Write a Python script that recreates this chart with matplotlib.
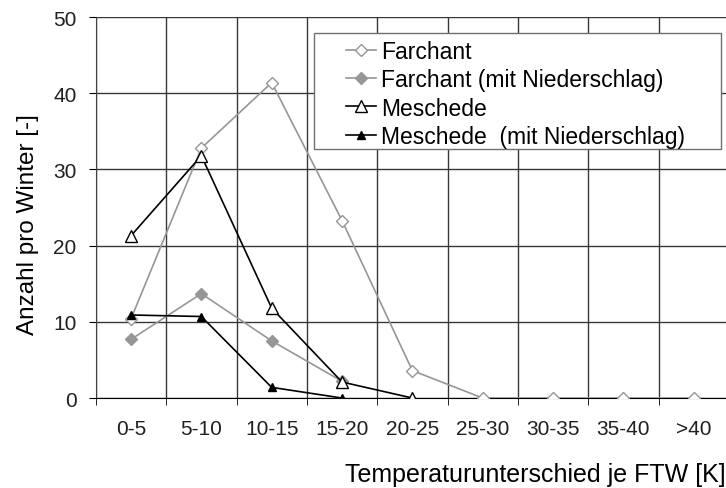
import matplotlib.pyplot as plt
from matplotlib.patches import Rectangle

plt.rcParams['font.family'] = ['Liberation Sans', 'DejaVu Sans']

# Kategorien und Werte
kategorien = ['0-5', '5-10', '10-15', '15-20', '20-25', '25-30', '30-35', '35-40', '>40']
farchant = [10.4, 32.8, 41.4, 23.3, 3.6, 0, 0, 0, 0]
farchant_ns = [7.7, 13.7, 7.5, 2.2]
meschede = [21.3, 31.8, 11.8, 2.1, 0]
meschede_ns = [10.9, 10.7, 1.4, 0]

fig = plt.figure(figsize=(7.26, 4.89), dpi=100)
ax = fig.add_axes([0.132, 0.184, 0.872, 0.779])

grau = '#969696'
ax.plot(range(len(farchant)), farchant, color=grau, lw=1.2, marker='D', ms=6,
        mfc='white', mec=grau, label='Farchant', zorder=3)
ax.plot(range(len(farchant_ns)), farchant_ns, color=grau, lw=1.2, marker='D', ms=6,
        mfc=grau, mec=grau, label='Farchant (mit Niederschlag)', zorder=3)
ax.plot(range(len(meschede)), meschede, color='black', lw=1.2, marker='^', ms=9,
        mfc='white', mec='black', mew=1, label='Meschede', zorder=4)
ax.plot(range(len(meschede_ns)), meschede_ns, color='black', lw=1.2, marker='^', ms=6,
        mfc='black', mec='black', label='Meschede  (mit Niederschlag)', zorder=4)

ax.set_xlim(-0.5, 8.5)
ax.set_ylim(0, 50)
ax.set_xticks(range(len(kategorien)))
ax.set_xticklabels(kategorien)
ax.set_xticks([i - 0.5 for i in range(len(kategorien) + 1)], minor=True)
ax.set_yticks(range(0, 51, 10))
ax.tick_params(axis='x', which='major', length=0, pad=15, labelsize=15, labelcolor='#202020')
ax.tick_params(axis='x', which='minor', length=5, direction='out', color='black')
ax.tick_params(axis='y', length=5, direction='out', labelsize=15, pad=9, labelcolor='#202020')
ax.grid(True, which='minor', axis='x', color='#383838', lw=1)
ax.grid(True, which='major', axis='y', color='#383838', lw=1)
ax.set_axisbelow(True)

for s in ['top', 'right']:
    ax.spines[s].set_visible(False)
ax.spines['left'].set_color('#404040')
ax.spines['bottom'].set_color('black')

ax.set_ylabel('Anzahl pro Winter [-]', fontsize=17.5)
ax.yaxis.set_label_coords(-0.089, 0.457)
fig.text(0.999, 0.0143, 'Temperaturunterschied je FTW [K]', fontsize=18,
         ha='right', va='baseline')

# Legende: Rahmen separat, Einträge ohne eigenen Rahmen
leg = ax.legend(loc='upper left', bbox_to_anchor=(0.385, 0.958), fontsize=16.5,
                frameon=False, handlelength=1.3, handletextpad=0.22,
                labelspacing=0.23, borderpad=0.3, borderaxespad=0)
ax.add_patch(Rectangle((0.344, 0.654), 0.643, 0.304, transform=ax.transAxes,
                       facecolor='white', edgecolor='#707070', lw=1, zorder=5))
leg.set_zorder(6)

plt.savefig('out.png', dpi=100)
